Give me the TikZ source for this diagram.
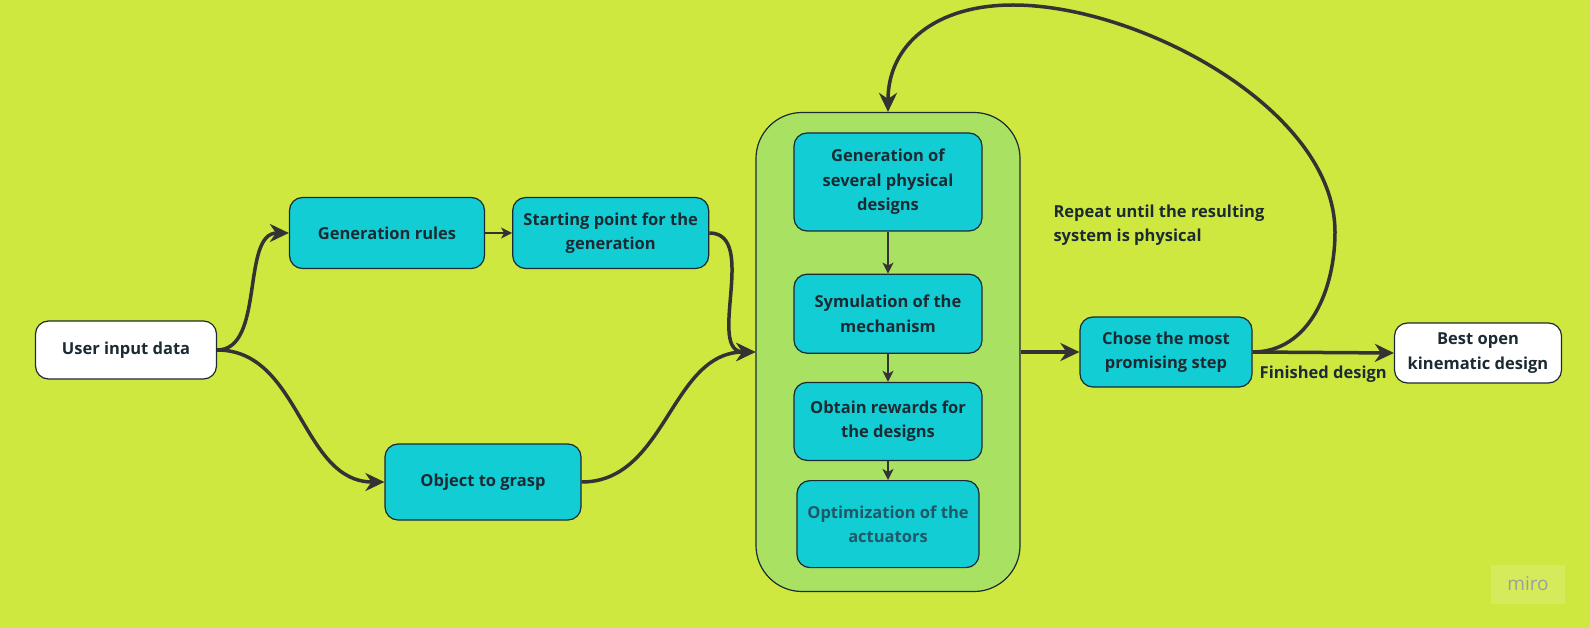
\documentclass[tikz,border=0pt]{standalone}
\usepackage{fontspec}
\setmainfont{Open Sans}
\usetikzlibrary{positioning,arrows.meta}

\definecolor{limebg}{HTML}{CFE840}
\definecolor{loopgreen}{HTML}{A9E262}
\definecolor{boxcyan}{HTML}{13CDD4}
\definecolor{inkdark}{HTML}{1B2A33}
\definecolor{arrowgray}{HTML}{333333}
\definecolor{optink}{HTML}{1F5866}

\tikzset{
  boxtext/.style={font=\bfseries\fontsize{16.5}{24.5}\selectfont, text=inkdark, align=center},
  stepbox/.style={boxtext, draw=inkdark, line width=1.2pt, rounded corners=13pt, fill=boxcyan, inner sep=0pt},
  endbox/.style={stepbox, fill=white},
  flow/.style={draw=arrowgray, line width=3.5pt, -{Stealth[length=19pt,width=18pt,inset=6pt]}},
  thinflow/.style={draw=arrowgray, line width=1.8pt, -{Stealth[length=11pt,width=11pt,inset=3pt]}}
}

\begin{document}
\begin{tikzpicture}[x=1pt,y=-1pt]
      \fill[limebg] (0,0) rectangle (1590,628);
      \useasboundingbox (0,0) rectangle (1590,628);
      % Define nodes
      \node[endbox, minimum width=181pt, minimum height=58pt] (user) at (126,350) {User input data};
      \node[stepbox, minimum width=195pt, minimum height=71pt] (rules) at (387,233) {Generation rules};
      \node[stepbox, minimum width=196pt, minimum height=71pt, right=27pt of rules] (start) {Starting point for the\\generation};
      \node[stepbox, minimum width=196pt, minimum height=76pt] (obj) at (483,482) {Object to grasp};
      \node[draw=inkdark, line width=1.2pt, rounded corners=46pt, fill=loopgreen,
            minimum width=264pt, minimum height=479pt] (loop) at (888,352) {};
      \node[stepbox, minimum width=188pt, minimum height=98pt] (gen) at (888,182) {Generation of\\several physical\\designs};
      \node[stepbox, minimum width=188pt, minimum height=79pt, below=42pt of gen] (sym) {Symulation of the\\mechanism};
      \node[stepbox, minimum width=188pt, minimum height=78pt, below=28pt of sym] (rew) {Obtain rewards for\\the designs};
      \node[stepbox, minimum width=182pt, minimum height=87pt, below=19pt of rew, text=optink] (opt) {Optimization of the\\actuators};
      \node[stepbox, minimum width=172pt, minimum height=70pt] (chose) at (1166,352) {Chose the most\\promising step};
      \node[endbox, minimum width=167pt, minimum height=60pt] (best) at (1478,353) {Best open\\kinematic design};
      \node[boxtext, align=left, anchor=west] (repeat) at (1050,225) {Repeat until the resulting\\system is physical};
      \coordinate (bend) at (1335,232);
      \coordinate (peak) at (1013,5);
      % watermark
      \node[fill=white, fill opacity=0.15, text opacity=1, text=black!38, font=\fontsize{19}{19}\selectfont,
            minimum width=74pt, minimum height=39pt] (miro) at (1528,584) {miro};
      % Connect nodes
      \draw[flow] (user.east) to[out=0, in=180, looseness=0.9] (rules.west);
      \draw[flow] (user.east) to[out=0, in=180, looseness=1] (obj.west);
      \draw[thinflow] (rules) -- (start);
      \draw[flow] (start.east) to[out=0, in=180, looseness=1] (loop.west);
      \draw[flow] (obj.east) to[out=0, in=180, looseness=1] (loop.west);
      \draw[thinflow] (gen) -- (sym);
      \draw[thinflow] (sym) -- (rew);
      \draw[thinflow] (rew) -- (opt);
      \draw[flow] (loop.east) -- (chose.west);
      \draw[flow] (chose.east) -- node[boxtext, below, yshift=-8pt] (done) {Finished design} (best.west);
      \draw[flow] (chose.east) to[out=0, in=-90] (bend)
            .. controls (1335,110) and (1140,5) .. (peak)
            .. controls (935,5) and (888,45) .. (loop.north);
\end{tikzpicture}
\end{document}
